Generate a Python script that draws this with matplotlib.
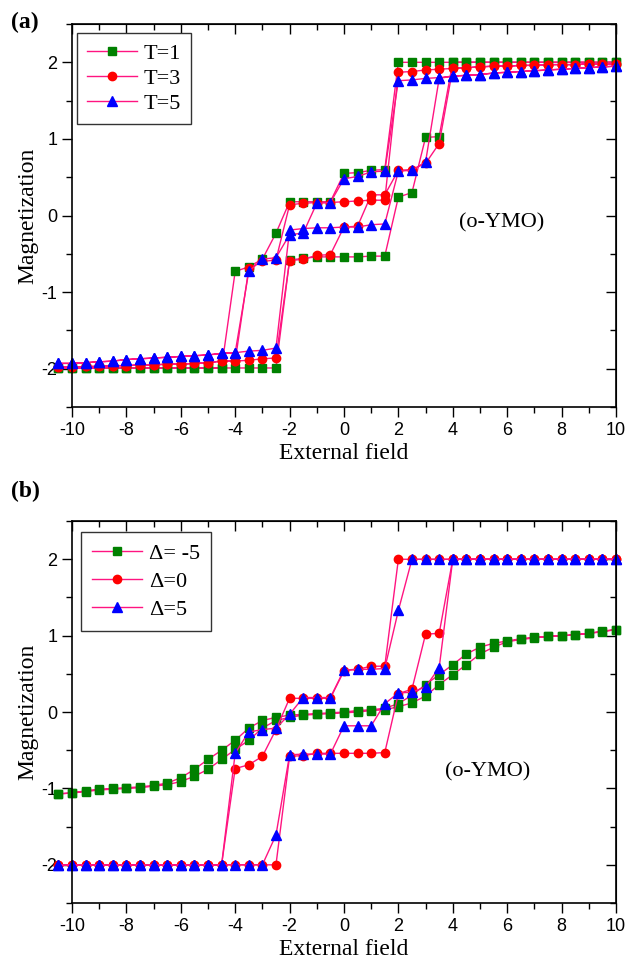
import matplotlib
matplotlib.use('Agg')
import matplotlib.pyplot as plt
from matplotlib.ticker import MultipleLocator

plt.rcParams['axes.unicode_minus'] = False

# field sweep points
field = [-10.5, -10, -9.5, -9, -8.5, -8, -7.5, -7, -6.5, -6, -5.5, -5, -4.5, -4,
         -3.5, -3, -2.5, -2, -1.5, -1, -0.5, 0, 0.5, 1, 1.5, 2, 2.5, 3, 3.5, 4,
         4.5, 5, 5.5, 6, 6.5, 7, 7.5, 8, 8.5, 9, 9.5, 10]

# panel (a): magnetization on the increasing-field sweep (up) and the
# decreasing-field sweep (down), both listed in the order of `field`
t1_up = [-1.99] * 17 + [-0.58, -0.56, -0.54, -0.54, -0.54, -0.54, -0.53, -0.53,
                        0.24, 0.30, 1.02, 1.03] + [2.0] * 13
t1_down = [-1.99] * 13 + [-0.73, -0.67, -0.57, -0.23, 0.18, 0.18, 0.18, 0.18,
                          0.55, 0.56, 0.59, 0.60] + [2.0] * 17

t3_up = [-1.98, -1.98, -1.97, -1.97, -1.96, -1.96, -1.95, -1.95, -1.94, -1.94,
         -1.93, -1.92, -1.90, -1.90, -1.89, -1.87, -1.86,
         -0.59, -0.57, -0.52, -0.51, -0.15, -0.14, 0.27, 0.27,
         0.59, 0.60, 0.68, 0.94,
         1.92, 1.93, 1.94, 1.95, 1.95, 1.96, 1.96, 1.97, 1.97, 1.97, 1.98, 1.98, 1.98]
t3_down = [-1.98, -1.98, -1.97, -1.97, -1.96, -1.96, -1.95, -1.95, -1.94, -1.94,
           -1.93, -1.92, -1.90, -1.90,
           -0.69, -0.60, -0.58, 0.14, 0.16, 0.17, 0.17, 0.18, 0.19, 0.20, 0.20,
           1.87, 1.88, 1.90, 1.91, 1.92, 1.93, 1.94, 1.95, 1.95, 1.96, 1.96,
           1.97, 1.97, 1.97, 1.98, 1.98, 1.98]

t5_up = [-1.93, -1.93, -1.92, -1.91, -1.90, -1.88, -1.87, -1.86, -1.85, -1.84,
         -1.83, -1.82, -1.80, -1.79, -1.77, -1.76, -1.73,
         -0.19, -0.17, -0.16, -0.16, -0.15, -0.15, -0.12, -0.11,
         0.58, 0.59, 0.70, 1.79,
         1.82, 1.83, 1.84, 1.86, 1.87, 1.88, 1.89, 1.90, 1.91, 1.92, 1.93, 1.94, 1.95]
t5_down = [-1.93, -1.93, -1.92, -1.91, -1.90, -1.88, -1.87, -1.86, -1.85, -1.84,
           -1.83, -1.82, -1.80, -1.79,
           -0.73, -0.57, -0.55, -0.25, -0.23, 0.16, 0.17, 0.48, 0.51, 0.57, 0.58,
           1.76, 1.77, 1.79, 1.80, 1.82, 1.83, 1.84, 1.86, 1.87, 1.88, 1.89,
           1.90, 1.91, 1.92, 1.93, 1.94, 1.95]

# panel (b)
dm5_up = [-1.07, -1.06, -1.04, -1.02, -1.01, -1.00, -0.99, -0.97, -0.95, -0.91,
          -0.84, -0.75, -0.62, -0.49, -0.37, -0.21, -0.11, -0.07, -0.04, -0.03,
          -0.02, -0.01, 0.00, 0.02, 0.03, 0.07, 0.12, 0.21, 0.36, 0.49,
          0.62, 0.76, 0.85, 0.92, 0.95, 0.97, 0.99, 1.00, 1.01, 1.03, 1.05, 1.08]
dm5_down = [-1.07, -1.06, -1.03, -1.01, -1.00, -0.99, -0.98, -0.96, -0.93, -0.86,
            -0.75, -0.62, -0.50, -0.37, -0.21, -0.11, -0.07, -0.04, -0.03, -0.02,
            -0.01, 0.00, 0.02, 0.03, 0.05, 0.11, 0.22, 0.36, 0.49, 0.62,
            0.76, 0.85, 0.90, 0.93, 0.96, 0.98, 0.99, 1.00, 1.01, 1.03, 1.06, 1.08]

d0_up = [-2.0] * 17 + [-0.58, -0.57, -0.54, -0.54, -0.54, -0.54, -0.54, -0.53,
                       0.24, 0.30, 1.02, 1.03] + [2.0] * 13
d0_down = [-2.0] * 13 + [-0.74, -0.69, -0.58, -0.23, 0.18, 0.18, 0.18, 0.18,
                         0.54, 0.56, 0.60, 0.60] + [2.0] * 17

d5_up = [-2.0] * 16 + [-1.61, -0.56, -0.55, -0.55, -0.55, -0.18, -0.18, -0.18,
                       0.11, 0.25, 0.26, 0.33, 0.58] + [2.0] * 13
d5_down = [-2.0] * 13 + [-0.54, -0.26, -0.23, -0.21, -0.03, 0.19, 0.19, 0.19,
                         0.55, 0.56, 0.56, 0.57, 1.33] + [2.0] * 16

line_color = '#FF1480'
serif = 'Liberation Serif'
sans = 'Liberation Sans'

fig = plt.figure(figsize=(6.27, 9.68), dpi=100)
ax_a = fig.add_axes([0.1148, 0.5795, 0.8676, 0.3957])
ax_b = fig.add_axes([0.1148, 0.0671, 0.8676, 0.3946])


def loop(ax, up, down, marker, color, ms, label):
    xs = field[::-1] + field
    ys = down[::-1] + up
    ax.plot(xs, ys, color=line_color, lw=1.0, marker=marker, ms=ms,
            mfc=color, mec=color, label=label, clip_on=False)


def style(ax):
    ax.set_xlim(-10, 10)
    ax.set_ylim(-2.5, 2.5)
    ax.xaxis.set_major_locator(MultipleLocator(2))
    ax.xaxis.set_minor_locator(MultipleLocator(1))
    ax.yaxis.set_major_locator(MultipleLocator(1))
    ax.yaxis.set_minor_locator(MultipleLocator(0.5))
    ax.tick_params(which='both', direction='out', width=1.0, labelsize=13)
    ax.tick_params(which='major', length=7)
    ax.tick_params(which='minor', length=4)
    for lab in ax.get_xticklabels() + ax.get_yticklabels():
        lab.set_fontfamily(sans)
    for s in ax.spines.values():
        s.set_linewidth(1.2)
    top = ax.secondary_xaxis('top')
    top.xaxis.set_major_locator(MultipleLocator(2))
    top.xaxis.set_minor_locator(MultipleLocator(1))
    top.tick_params(which='both', direction='in', labeltop=False, width=1.0)
    top.tick_params(which='major', length=7)
    top.tick_params(which='minor', length=4)
    right = ax.secondary_yaxis('right')
    right.yaxis.set_major_locator(MultipleLocator(1))
    right.yaxis.set_minor_locator(MultipleLocator(0.5))
    right.tick_params(which='both', direction='in', labelright=False, width=1.0)
    right.tick_params(which='major', length=7)
    right.tick_params(which='minor', length=4)
    ax.set_xlabel('External field', fontfamily=serif, fontsize=17, labelpad=3)
    ax.set_ylabel('Magnetization', fontfamily=serif, fontsize=17, labelpad=2)


loop(ax_a, t1_up, t1_down, 's', '#008000', 5.5, 'T=1')
loop(ax_a, t3_up, t3_down, 'o', '#FF0000', 6.0, 'T=3')
loop(ax_a, t5_up, t5_down, '^', '#0000FF', 7.0, 'T=5')
style(ax_a)
ax_a.text(5.8, -0.1, '(o-YMO)', fontfamily=serif, fontsize=16, ha='center', va='center')
ax_a.legend(loc='upper left', bbox_to_anchor=(0.009, 0.9765), borderaxespad=0,
            fancybox=False, edgecolor='#333333', framealpha=1,
            handlelength=2.25, handletextpad=0.3, labelspacing=0.2,
            borderpad=0.45, prop={'family': serif, 'size': 16})
fig.text(0.018, 0.977, '(a)', fontfamily=serif, fontweight='bold', fontsize=17,
         ha='left', va='center')

loop(ax_b, dm5_up, dm5_down, 's', '#008000', 5.5, 'Δ= -5')
loop(ax_b, d0_up, d0_down, 'o', '#FF0000', 6.0, 'Δ=0')
loop(ax_b, d5_up, d5_down, '^', '#0000FF', 7.0, 'Δ=5')
style(ax_b)
ax_b.text(5.28, -0.78, '(o-YMO)', fontfamily=serif, fontsize=16, ha='center', va='center')
ax_b.legend(loc='upper left', bbox_to_anchor=(0.0165, 0.971), borderaxespad=0,
            fancybox=False, edgecolor='#333333', framealpha=1,
            handlelength=2.25, handletextpad=0.3, labelspacing=0.34,
            borderpad=0.5, prop={'family': serif, 'size': 16})
fig.text(0.018, 0.492, '(b)', fontfamily=serif, fontweight='bold', fontsize=17,
         ha='left', va='center')

fig.savefig('out.png', dpi=100)
